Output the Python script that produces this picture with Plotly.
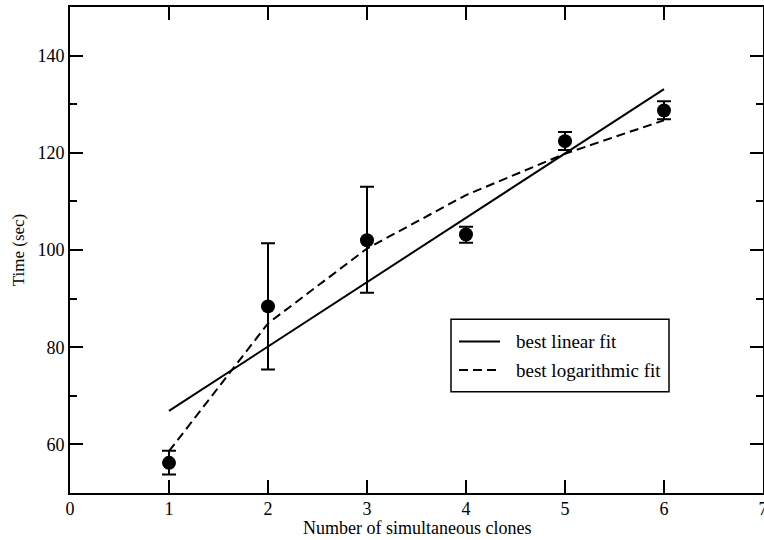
import plotly.graph_objects as go

# Measured data
clones = [1, 2, 3, 4, 5, 6]
time_sec = [56.2, 88.4, 102.0, 103.2, 122.4, 128.7]
err_plus = [2.5, 13.0, 11.0, 1.6, 1.9, 1.9]
err_minus = [2.4, 13.0, 10.8, 1.7, 1.8, 1.8]

lin_x = [1, 6]
lin_y = [66.9, 133.1]

log_x = [1, 2, 3, 4, 5, 6]
log_y = [58.6, 84.9, 100.3, 111.3, 119.8, 126.7]

x_ticks = [0, 1, 2, 3, 4, 5, 6, 7]
y_ticks = [60, 80, 100, 120, 140]

series_names = ["best linear fit", "best logarithmic fit"]
x_title = "Number of simultaneous clones"
y_title = "Time (sec)"

FONT = "Liberation Serif"
W, H = 764, 540
ML, MR, MT, MB = 70, 1, 7, 47
PW, PH = W - ML - MR, H - MT - MB


def px_x(px):
    return (px - ML) / PW


def px_y(py):
    return (H - MB - py) / PH


fig = go.Figure()

lin_style = dict(color="black", width=2)
log_style = dict(color="black", width=2, dash="9px,5px")

fig.add_trace(go.Scatter(x=lin_x, y=lin_y, mode="lines", line=lin_style,
                         name=series_names[0], showlegend=False))
fig.add_trace(go.Scatter(x=log_x, y=log_y, mode="lines", line=log_style,
                         name=series_names[1], showlegend=False))
fig.add_trace(go.Scatter(
    x=clones, y=time_sec, mode="markers",
    marker=dict(color="black", size=14, symbol="circle"),
    error_y=dict(type="data", symmetric=False, array=err_plus, arrayminus=err_minus,
                 color="black", thickness=2, width=7),
    showlegend=False,
))

axis_common = dict(
    showline=True, linecolor="black", linewidth=2, mirror="allticks",
    ticks="inside", ticklen=13, tickwidth=1.5, tickcolor="black",
    showgrid=False, zeroline=False, automargin=False,
    ticklabeloverflow="allow",
    tickfont=dict(family=FONT, size=18, color="black"),
)

fig.update_xaxes(range=[0, 7], tickvals=x_ticks, ticklabelstandoff=-2, **axis_common)
fig.update_yaxes(
    range=[50, 150], tickvals=y_ticks,
    minor=dict(ticks="inside", ticklen=7, tickwidth=1.5, tickcolor="black", dtick=10, tick0=50, showgrid=False),
    title=dict(text=y_title, font=dict(family=FONT, size=17, color="black"), standoff=8),
    **axis_common,
)

# x-axis title placed exactly
fig.add_annotation(xref="paper", yref="paper", x=0.5, y=px_y(527.5),
                   text=x_title, showarrow=False, xanchor="center", yanchor="middle",
                   font=dict(family=FONT, size=18, color="black"))

# Hand-drawn legend box (to match the reference's longer line samples)
box = dict(x0=px_x(451), x1=px_x(669), y0=px_y(391.7), y1=px_y(319.3))
fig.add_shape(type="rect", xref="paper", yref="paper", **box,
              line=dict(color="black", width=1.5), fillcolor="white", layer="above")
rows = [(341.5, lin_style), (370.0, log_style)]
for (py, style), name in zip(rows, series_names):
    fig.add_shape(type="line", xref="paper", yref="paper",
                  x0=px_x(459), x1=px_x(500), y0=px_y(py), y1=px_y(py),
                  line=style, layer="above")
    fig.add_annotation(xref="paper", yref="paper", x=px_x(514), y=px_y(py),
                       text=name, showarrow=False, xanchor="left", yanchor="middle",
                       font=dict(family=FONT, size=19, color="black"))

fig.update_layout(
    width=W, height=H,
    margin=dict(l=ML, r=MR, t=MT, b=MB),
    paper_bgcolor="white", plot_bgcolor="white",
    font=dict(family=FONT, color="black"),
    showlegend=False,
)

fig.write_html("out.html", config={"displayModeBar": False},
               post_script="document.body.style.margin='0px';")
